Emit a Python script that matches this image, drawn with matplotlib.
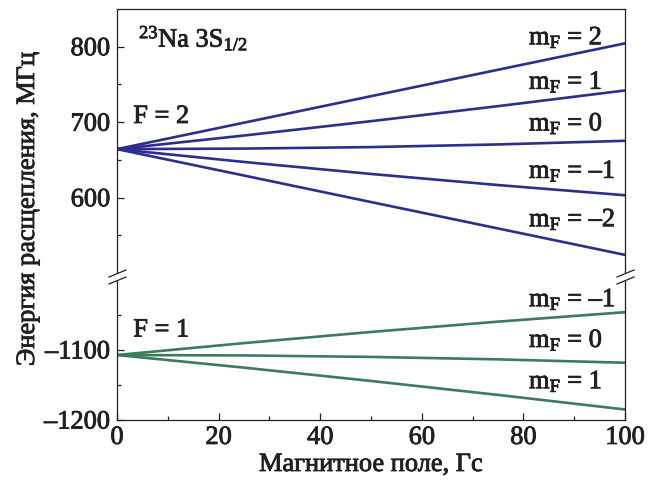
import numpy as np
import matplotlib
matplotlib.use("Agg")
import matplotlib.pyplot as plt
import matplotlib.patheffects as pe
from matplotlib.text import Text
from matplotlib.ticker import FixedLocator, MultipleLocator, FuncFormatter
from matplotlib.lines import Line2D
from matplotlib.patches import Polygon

plt.rcParams['font.family'] = ['Liberation Serif', 'DejaVu Serif']
plt.rcParams['mathtext.fontset'] = 'custom'
plt.rcParams['mathtext.rm'] = 'Liberation Serif'
plt.rcParams['mathtext.it'] = 'Liberation Serif:italic'
plt.rcParams['text.color'] = '#231f20'
plt.rcParams['xtick.color'] = '#231f20'
plt.rcParams['ytick.color'] = '#231f20'

# magnetic field, G
field = [0, 25, 50, 75, 100]

# F = 2 levels, MHz
f2_mf = ['2', '1', '0', '\u20131', '\u20132']
f2_levels = [
    [664.4, 699.4, 734.5, 769.5, 804.5],
    [664.4, 682.4, 701.4, 721.3, 742.1],
    [664.4, 665.1, 667.1, 670.6, 675.4],
    [664.4, 647.4, 631.5, 616.8, 603.3],
    [664.4, 629.4, 594.3, 559.3, 524.3],
]

# F = 1 levels, MHz
f1_mf = ['\u20131', '0', '1']
f1_levels = [
    [-1107.3, -1090.3, -1074.4, -1059.7, -1046.2],
    [-1107.3, -1107.9, -1110.0, -1113.5, -1118.3],
    [-1107.3, -1125.3, -1144.3, -1164.2, -1185.0],
]

# tick values
top_major = [600, 700, 800]
top_minor = [550, 650, 750]
bot_major = [-1200, -1100]
bot_minor = [-1150, -1050]

blue = '#2c2e8c'
green = '#3e7b5c'
fs = 19

W, H = 655, 482
def fx(px):
    return px / W
def fy(py):
    return 1 - py / H

fig = plt.figure(figsize=(W / 100, H / 100), dpi=100)
ax_top = fig.add_axes([fx(117), fy(277), fx(625) - fx(117), fy(9) - fy(277)])
ax_bot = fig.add_axes([fx(117), fy(420), fx(625) - fx(117), fy(277) - fy(420)])

for lev in f2_levels:
    ax_top.plot(field, lev, color=blue, lw=1.9)
for lev in f1_levels:
    ax_bot.plot(field, lev, color=green, lw=1.9)

ax_top.set_ylim(495, 850)
ax_bot.set_ylim(-1200, -996)
ax_top.yaxis.set_major_locator(FixedLocator(top_major))
ax_top.yaxis.set_minor_locator(FixedLocator(top_minor))
ax_bot.yaxis.set_major_locator(FixedLocator(bot_major))
ax_bot.yaxis.set_minor_locator(FixedLocator(bot_minor))
for ax in (ax_top, ax_bot):
    ax.set_xlim(0, 100)
    for s in ax.spines.values():
        s.set_linewidth(0.9)
        s.set_color('#231f20')
    ax.yaxis.set_major_formatter(FuncFormatter(lambda v, p: f'{v:.0f}'.replace('-', '\u2013')))
    ax.tick_params(which='both', direction='in', right=False, top=False,
                   labelsize=fs, pad=5)
    ax.tick_params(which='major', length=5, width=0.9)
    ax.tick_params(which='minor', length=3, width=0.9)

ax_top.spines['bottom'].set_visible(False)
ax_top.tick_params(which='both', bottom=False, labelbottom=False)
ax_bot.spines['top'].set_visible(False)
ax_bot.xaxis.set_major_locator(MultipleLocator(20))
ax_bot.xaxis.set_minor_locator(MultipleLocator(10))

# break marks
for xs in (117, 625):
    gap = Polygon([(fx(xs - 8), fy(277)), (fx(xs + 9), fy(270)),
                   (fx(xs + 9), fy(277)), (fx(xs - 8), fy(284))],
                  closed=True, transform=fig.transFigure, facecolor='white',
                  edgecolor='none', zorder=10)
    fig.add_artist(gap)
    for dy in (0, 7):
        fig.add_artist(Line2D([fx(xs - 8), fx(xs + 9)], [fy(277 + dy), fy(270 + dy)],
                              transform=fig.transFigure, color='#231f20', lw=0.9, zorder=11))

# labels
ax_top.text(4.3, 800, r'$^{23}$Na 3S$_{1/2}$', fontsize=fs, va='baseline')
ax_top.text(3.2, 699, 'F = 2', fontsize=fs, va='baseline')
ax_bot.text(3.2, -1081, 'F = 1', fontsize=fs, va='baseline')

for mf, yb in zip(f2_mf, [803, 744, 689, 626, 562]):
    ax_top.text(81.1, yb, r'm$_{\rm F}$ = ' + mf, fontsize=fs, va='baseline')
for mf, yb in zip(f1_mf, [-1038, -1096, -1155]):
    ax_bot.text(81.1, yb, r'm$_{\rm F}$ = ' + mf, fontsize=fs, va='baseline')

fig.text(fx(28), fy(209), 'Энергия расщепления, МГц', rotation=90,
         fontsize=fs, ha='center', va='center')
fig.text(fx(371), fy(465), 'Магнитное поле, Гс', fontsize=fs, ha='center', va='center')

# slightly heavier glyphs, like the printed original
for t in fig.findobj(Text):
    t.set_path_effects([pe.withStroke(linewidth=0.6, foreground='#231f20')])

fig.savefig('out.png', dpi=100)
